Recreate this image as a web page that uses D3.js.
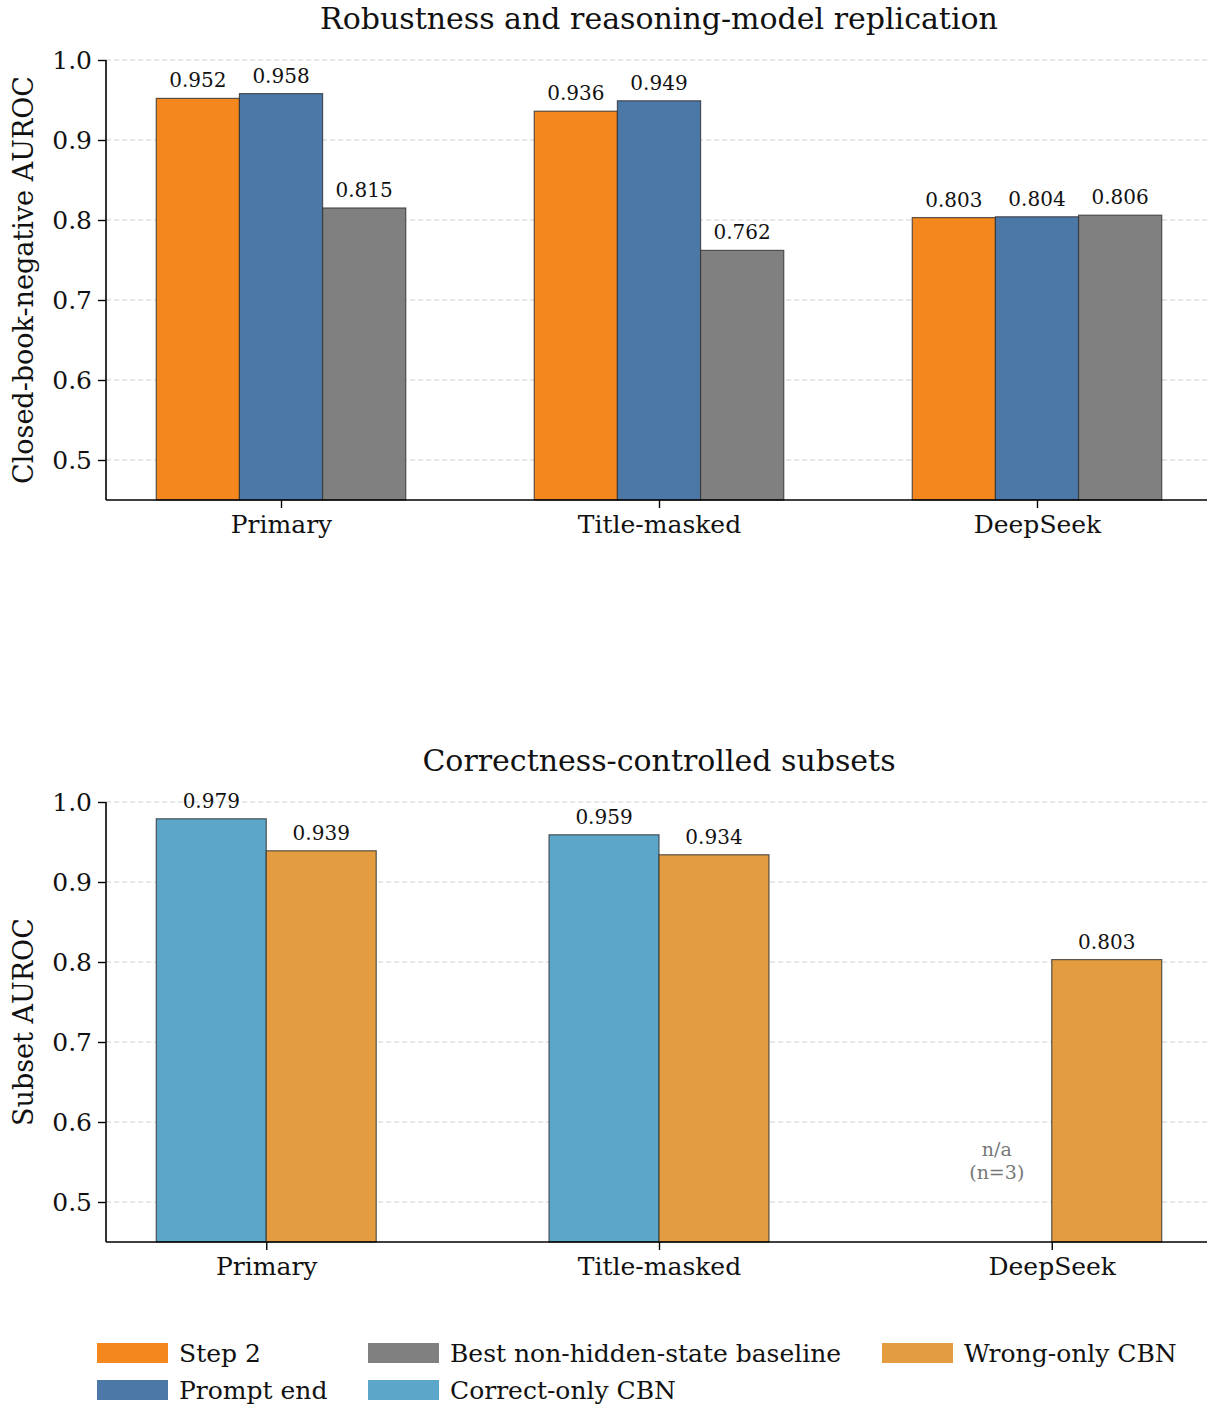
<!DOCTYPE html>
<html lang="en">
<head>
<meta charset="UTF-8">
<title>AUROC panels</title>
<style>
  body { margin: 0; background: #fff; }
  svg { display: block; }
  text { font-family: "DejaVu Serif", serif; fill: #111; }
</style>
</head>
<body>
<div id="chart"></div>
<script src="https://cdn.jsdelivr.net/npm/d3@7"></script>
<script>
// data
var categories = ["Primary", "Title-masked", "DeepSeek"];
var step2 = [0.952, 0.936, 0.803];
var promptEnd = [0.958, 0.949, 0.804];
var baseline = [0.815, 0.762, 0.806];
var correctOnly = [0.979, 0.959, null];
var wrongOnly = [0.939, 0.934, 0.803];
var yTicks = [0.5, 0.6, 0.7, 0.8, 0.9, 1.0];

var W = 1207, H = 1408;
var svg = d3.select("#chart").append("svg")
  .attr("width", W).attr("height", H);

var colors = {
  step2: "#f5871f",
  prompt: "#4c78a8",
  base: "#808080",
  correct: "#5ba6c9",
  wrong: "#e39c3f"
};

function drawPanel(opt) {
  var g = svg.append("g");
  var barW = opt.barW, n = opt.series.length;
  var half = barW * n / 2;
  var pad = 0.05 * (categories.length - 1 + 2 * half);
  var x = d3.scaleLinear()
    .domain([-half - pad, categories.length - 1 + half + pad])
    .range([106, 1212]);
  var y = d3.scaleLinear().domain([0.45, 1.0]).range([opt.bottom, opt.top]);

  // grid
  g.selectAll(".grid").data(yTicks).enter().append("line")
    .attr("x1", 106).attr("x2", 1212)
    .attr("y1", function(d) { return y(d); })
    .attr("y2", function(d) { return y(d); })
    .attr("stroke", "#d0d0d0").attr("stroke-width", 1)
    .attr("stroke-dasharray", "5,3");

  // bars
  opt.series.forEach(function(s, si) {
    var off = -half + barW * si;
    s.values.forEach(function(v, i) {
      if (v == null) {
        var cx = x(i + off + barW / 2);
        var t = g.append("text")
          .attr("x", cx).attr("y", y(0.55))
          .attr("text-anchor", "middle")
          .style("font-size", "19px").style("fill", "#777");
        t.append("tspan").attr("x", cx).attr("dy", "-0.3em").text("n/a");
        t.append("tspan").attr("x", cx).attr("dy", "1.2em").text("(n=3)");
        return;
      }
      g.append("rect")
        .attr("x", x(i + off)).attr("width", x(barW) - x(0))
        .attr("y", y(v)).attr("height", y(0.45) - y(v))
        .attr("fill", s.color)
        .attr("stroke", "#333").attr("stroke-opacity", 0.8)
        .attr("stroke-width", 1.2);
      g.append("text")
        .attr("x", x(i + off + barW / 2)).attr("y", y(v) - 11)
        .attr("text-anchor", "middle")
        .style("font-size", "20px")
        .text(d3.format(".3f")(v));
    });
  });

  // axes
  var yAxis = d3.axisLeft(y).tickValues(yTicks).tickFormat(d3.format(".1f"))
    .tickSize(8).tickPadding(6);
  var ya = g.append("g").attr("transform", "translate(106,0)").call(yAxis);
  var xAxis = d3.axisBottom(x).tickValues([0, 1, 2])
    .tickFormat(function(d) { return categories[d]; })
    .tickSize(8).tickPadding(7);
  var xa = g.append("g").attr("transform", "translate(0," + opt.bottom + ")").call(xAxis);
  [ya, xa].forEach(function(a) {
    a.select(".domain").attr("stroke", "#000").attr("stroke-width", 1.6);
    a.selectAll(".tick line").attr("stroke", "#000").attr("stroke-width", 1.4);
    a.selectAll("text").style("font-size", "25px").style("font-family", "DejaVu Serif").attr("fill", "#111");
  });
  ya.select(".domain").attr("d", "M0," + opt.bottom + "V" + opt.top);
  xa.select(".domain").attr("d", "M106,0H1212");

  g.append("text")
    .attr("x", 659).attr("y", opt.top - 31)
    .attr("text-anchor", "middle")
    .style("font-size", "30px")
    .text(opt.title);

  g.append("text")
    .attr("transform", "translate(33," + ((opt.top + opt.bottom) / 2) + ") rotate(-90)")
    .attr("text-anchor", "middle")
    .style("font-size", "27px")
    .text(opt.ylabel);
}

drawPanel({
  top: 60, bottom: 500, barW: 0.22,
  title: "Robustness and reasoning-model replication",
  ylabel: "Closed-book-negative AUROC",
  series: [
    { values: step2, color: colors.step2 },
    { values: promptEnd, color: colors.prompt },
    { values: baseline, color: colors.base }
  ]
});

drawPanel({
  top: 802, bottom: 1242, barW: 0.28,
  title: "Correctness-controlled subsets",
  ylabel: "Subset AUROC",
  series: [
    { values: correctOnly, color: colors.correct },
    { values: wrongOnly, color: colors.wrong }
  ]
});

// legend
var legendItems = [
  { label: "Step 2", color: colors.step2, x: 97, row: 0 },
  { label: "Prompt end", color: colors.prompt, x: 97, row: 1 },
  { label: "Best non-hidden-state baseline", color: colors.base, x: 368, row: 0 },
  { label: "Correct-only CBN", color: colors.correct, x: 368, row: 1 },
  { label: "Wrong-only CBN", color: colors.wrong, x: 882, row: 0 }
];
var lg = svg.append("g");
legendItems.forEach(function(d) {
  var cy = 1353 + d.row * 37;
  lg.append("rect").attr("x", d.x).attr("y", cy - 10)
    .attr("width", 71).attr("height", 20).attr("fill", d.color);
  lg.append("text").attr("x", d.x + 82).attr("y", cy + 9)
    .style("font-size", "25px").text(d.label);
});
</script>
</body>
</html>
